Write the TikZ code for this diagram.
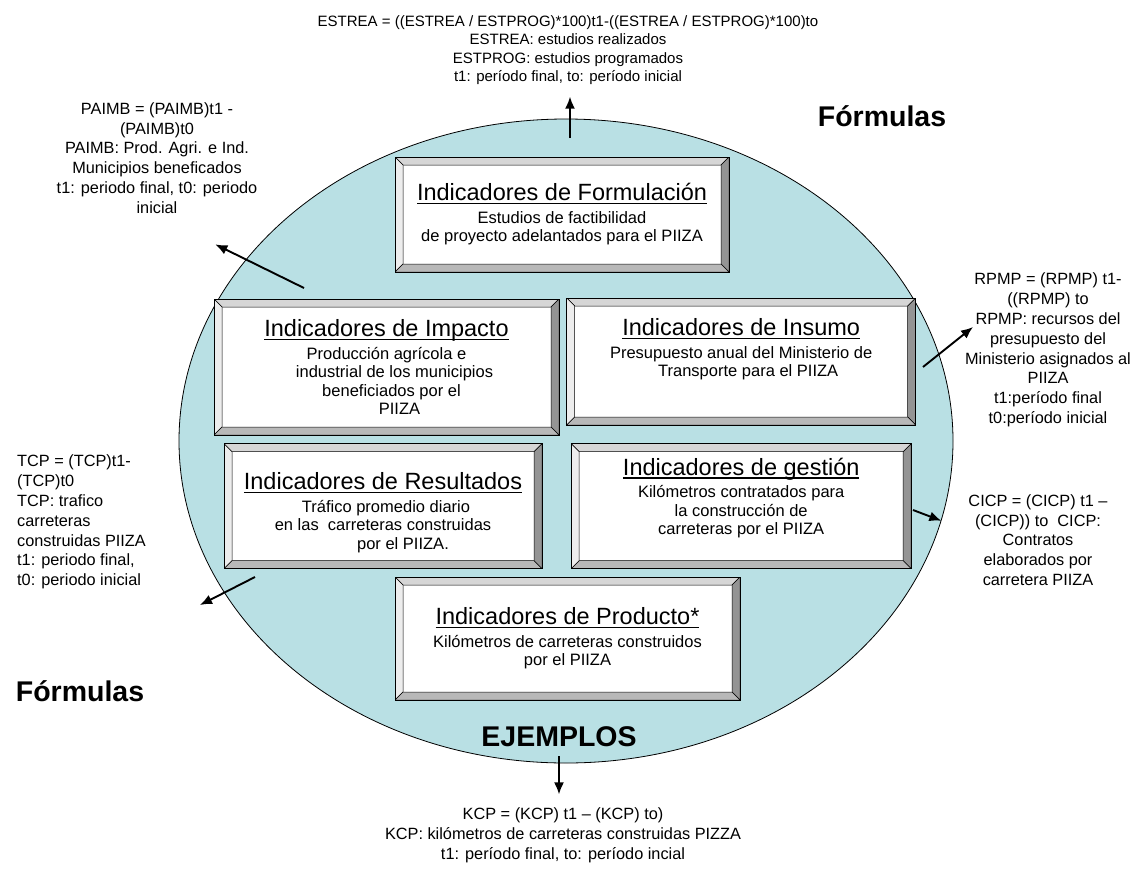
\documentclass[tikz,border=0pt]{standalone}
\usepackage{fontspec}
\setmainfont{Liberation Sans}
\usetikzlibrary{shapes.geometric, arrows.meta, positioning, calc}
\definecolor{ovalblue}{RGB}{185,224,228}
\newcommand{\bodyfont}{\fontsize{16.5}{18.5}\selectfont}
\newcommand{\titlefont}{\fontsize{23.5}{26}\selectfont}
\newcommand{\sidefont}{\fontsize{16.3}{19.8}\selectfont}
\newcommand{\topfont}{\fontsize{15}{18.3}\selectfont}
\newcommand{\headfont}{\fontsize{28.5}{32}\selectfont\bfseries}
\newcommand{\undl}[1]{\setbox0=\hbox{#1}\rlap{\copy0}\rule[-3.5pt]{\wd0}{1.5pt}}
\tikzstyle{bevel} = [rectangle, draw=black, line width=0.7pt, fill=white, inner sep=0pt, align=center, font=\bodyfont, path picture={
  \filldraw[fill=black!16, line width=0.5pt] (path picture bounding box.north west) -- (path picture bounding box.north east) -- ++(-8pt,-8pt) -- ($(path picture bounding box.north west)+(8pt,-8pt)$) -- cycle;
  \filldraw[fill=black!7, line width=0.5pt] (path picture bounding box.north west) -- ++(8pt,-8pt) -- ($(path picture bounding box.south west)+(8pt,8pt)$) -- (path picture bounding box.south west) -- cycle;
  \filldraw[fill=black!42, line width=0.5pt] (path picture bounding box.north east) -- ++(-8pt,-8pt) -- ($(path picture bounding box.south east)+(-8pt,8pt)$) -- (path picture bounding box.south east) -- cycle;
  \filldraw[fill=black!28, line width=0.5pt] (path picture bounding box.south west) -- ++(8pt,8pt) -- ($(path picture bounding box.south east)+(-8pt,8pt)$) -- (path picture bounding box.south east) -- cycle;
}]
\tikzstyle{formula} = [align=center, font=\sidefont, inner sep=2pt]
\tikzstyle{heading} = [font=\headfont, inner sep=3pt]
\tikzstyle{arrow} = [line width=1.9pt, -{Latex[length=12pt,width=10pt]}]

\begin{document}
\begin{tikzpicture}[x=1pt, y=1pt]
    \path[use as bounding box, fill=white] (0,0) rectangle (1138,-868);
    \node[ellipse, draw=black, line width=0.8pt, fill=ovalblue, minimum width=774pt, minimum height=644pt, inner sep=0pt] (oval) at (566,-441) {};

    \node[bevel, minimum width=334pt, minimum height=115pt] (formulacion) at (562,-214.5) {{\titlefont\undl{Indicadores de Formulación}}\\[4pt]Estudios de factibilidad\hspace*{24pt}\\de proyecto adelantados para el PIIZA};
    \node[bevel, minimum width=345pt, minimum height=136pt] (impacto) at (386.5,-367) {{\titlefont\undl{Indicadores de Impacto}}\\[4pt]Producción agrícola e\hspace*{26pt}\\\hspace*{16pt}industrial de los municipios\\\hspace*{10pt}beneficiados por el\\\hspace*{26pt}PIIZA};
    \node[bevel, minimum width=349pt, minimum height=127pt, right=7pt of impacto, yshift=5.5pt] (insumo) {{\titlefont\undl{Indicadores de Insumo}}\\[4pt]Presupuesto anual del Ministerio de\hspace*{36pt}\\\hspace*{14pt}Transporte para el PIIZA\rule[-28pt]{0pt}{1pt}};
    \node[bevel, minimum width=318pt, minimum height=125pt, below=8pt of impacto, xshift=-3.5pt] (resultados) {{\titlefont\rule{0pt}{30pt}\undl{Indicadores de Resultados}}\\[4pt]\hspace*{6pt}Tráfico promedio diario\\en las~ carreteras construidas\hspace*{20pt}\\\hspace*{40pt}por el PIIZA.};
    \node[bevel, minimum width=340pt, minimum height=125pt, below=18pt of insumo] (gestion) {{\titlefont\undl{Indicadores de gestión}}\\[4pt]Kilómetros contratados para\\la construcción de\\carreteras por el PIIZA\rule[-20pt]{0pt}{1pt}};
    \node[bevel, minimum width=345pt, minimum height=123pt] (producto) at (567.5,-638.5) {{\titlefont\undl{Indicadores de Producto*}}\\[4pt]Kilómetros de carreteras construidos\\por el PIIZA};

    \node[heading] (formulastop) at (882,-116) {Fórmulas};
    \node[heading] (formulasbot) at (80,-691) {Fórmulas};
    \node[heading] (ejemplos) at (559,-737) {EJEMPLOS};

    \node[formula, font=\topfont] (estrea) at (568,-50) {ESTREA = ((ESTREA / ESTPROG)*100)t1-((ESTREA / ESTPROG)*100)to\\ESTREA: estudios realizados\\ESTPROG: estudios programados\\t1: período final, to: período inicial};
    \node[formula] (paimb) at (157,-158) {PAIMB = (PAIMB)t1 -\\(PAIMB)t0\\PAIMB: Prod. Agri. e Ind.\\Municipios beneficados\\t1: periodo final, t0: periodo\\inicial};
    \node[formula] (rpmp) at (1048,-350) {RPMP = (RPMP) t1-\\((RPMP) to\\RPMP: recursos del\\presupuesto del\\Ministerio asignados al\\PIIZA\\t1:período final\\t0:período inicial};
    \node[formula, align=left, anchor=west] (tcp) at (15,-522) {TCP = (TCP)t1-\\(TCP)t0\\TCP: trafico\\carreteras\\construidas PIIZA\\t1: periodo final,\\t0: periodo inicial};
    \node[formula] (cicp) at (1038,-540) {CICP = (CICP) t1 –\\(CICP)) to~ CICP:\\Contratos\\elaborados por\\carretera PIIZA};
    \node[formula] (kcp) at (563,-835) {KCP = (KCP) t1 – (KCP) to)\\KCP: kilómetros de carreteras construidas PIZZA\\t1: período final, to: período incial};

    \coordinate (formtail) at (570,-138);
    \coordinate (impactotail) at (304,-288);
    \coordinate (insumotail) at (923,-367);
    \coordinate (insumotip) at (973,-327);
    \coordinate (resultadostail) at (255,-577);
    \coordinate (resultadostip) at (200,-605);
    \coordinate (gestiontail) at (913,-510);

    \draw[arrow, shorten >=10pt] (formtail) -- (formtail |- estrea.south);
    \draw[arrow, shorten >=65pt] (impactotail) -- (paimb.south);
    \draw[arrow] (insumotail) -- (insumotip);
    \draw[arrow] (resultadostail) -- (resultadostip);
    \draw[arrow] (gestiontail) -- (oval.-12);
    \draw[arrow, shorten <=6pt, shorten >=11pt] (ejemplos.south) -- (ejemplos.south |- kcp.north);
\end{tikzpicture}
\end{document}
